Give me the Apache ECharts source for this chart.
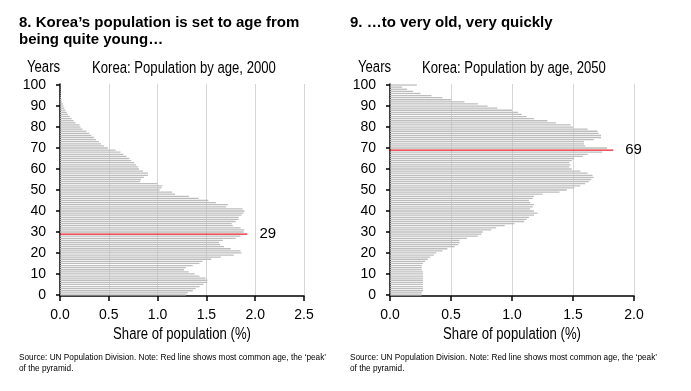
<!DOCTYPE html>
<html>
<head>
<meta charset="utf-8">
<script src="https://cdn.jsdelivr.net/npm/echarts@6/dist/echarts.min.js"></script>
<style>
html,body{margin:0;padding:0;background:#fff;}
#c{width:691px;height:391px;}
</style>
</head>
<body>
<div id="c"></div>
<script>
// Ages 0..100 (bottom to top)
const ages = [];
for (let a = 0; a <= 100; a++) ages.push(String(a));

// Share of population (%) by single year of age, Korea 2000
const share2000 = [
  1.29, 1.31, 1.36, 1.39, 1.43, 1.47, 1.51, 1.51, 1.49, 1.43,
  1.38, 1.32, 1.27, 1.29, 1.36, 1.43, 1.46, 1.55, 1.65, 1.78,
  1.86, 1.85, 1.75, 1.68, 1.64, 1.63, 1.67, 1.80, 1.85, 1.92,
  1.88, 1.89, 1.85, 1.77, 1.76, 1.80, 1.83, 1.83, 1.86, 1.88,
  1.89, 1.87, 1.70, 1.72, 1.60, 1.52, 1.42, 1.32, 1.18, 1.15,
  1.02, 1.04, 1.05, 1.00, 0.82, 0.83, 0.86, 0.90, 0.90, 0.85,
  0.81, 0.80, 0.78, 0.76, 0.73, 0.71, 0.68, 0.65, 0.62, 0.57,
  0.49, 0.45, 0.42, 0.40, 0.37, 0.35, 0.32, 0.30, 0.27, 0.23,
  0.21, 0.20, 0.16, 0.14, 0.12, 0.10, 0.08, 0.07, 0.055, 0.045,
  0.035, 0.03, 0.02, 0.015, 0.01, 0.008, 0.006, 0.005, 0.004, 0.003,
  0.005
];

// Share of population (%) by single year of age, Korea 2050 (100 = 100+)
const share2050 = [
  0.26, 0.26, 0.27, 0.27, 0.27, 0.27, 0.27, 0.27, 0.27, 0.27,
  0.27, 0.27, 0.26, 0.26, 0.26, 0.27, 0.29, 0.31, 0.33, 0.36,
  0.38, 0.43, 0.47, 0.53, 0.56, 0.57, 0.57, 0.63, 0.72, 0.75,
  0.76, 0.83, 0.87, 0.94, 1.02, 1.10, 1.12, 1.14, 1.18, 1.21,
  1.18, 1.15, 1.17, 1.18, 1.15, 1.14, 1.17, 1.18, 1.25, 1.39,
  1.45, 1.51, 1.56, 1.60, 1.63, 1.65, 1.67, 1.66, 1.62, 1.56,
  1.49, 1.47, 1.48, 1.47, 1.49, 1.51, 1.58, 1.62, 1.74, 1.83,
  1.78, 1.60, 1.59, 1.59, 1.67, 1.73, 1.73, 1.71, 1.70, 1.62,
  1.50, 1.48, 1.36, 1.29, 1.18, 1.12, 1.08, 1.05, 1.00, 0.88,
  0.80, 0.72, 0.61, 0.50, 0.43, 0.34, 0.25, 0.19, 0.14, 0.10,
  0.22
];

const xTicksLeft = ['0.0', '0.5', '1.0', '1.5', '2.0', '2.5'];
const xTicksRight = ['0.0', '0.5', '1.0', '1.5', '2.0'];

const SANS = '"Liberation Sans", Arial, sans-serif';
const BAR = '#bdbdbd';
const RED = '#e4202a';
const COND = 0.82; // horizontal squeeze to mimic the narrow font of the original

function build(values) {
  let peak = 0;
  values.forEach((v, i) => { if (v > values[peak]) peak = i; });
  return values.map((v, i) => i === peak ? {
    value: v,
    itemStyle: { color: RED },
    label: {
      show: true, position: 'right', distance: 12,
      formatter: ages[i], color: '#000',
      fontFamily: SANS, fontSize: 15
    }
  } : v);
}

function xAxis(grid, max, labels) {
  return {
    type: 'value', gridIndex: grid, min: 0, max: max, interval: 0.5,
    axisLine: { show: true, lineStyle: { color: '#000', width: 1.5 } },
    axisTick: { show: true, length: 5, lineStyle: { color: '#000', width: 1.5 } },
    axisLabel: {
      margin: 12, color: '#000', fontFamily: SANS, fontSize: 14,
      formatter: v => labels[Math.round(v / 0.5)]
    },
    splitLine: { show: true, lineStyle: { color: '#d6d6d6', width: 1 } }
  };
}

function yAxis(grid) {
  return {
    type: 'category', gridIndex: grid, data: ages, boundaryGap: true,
    axisLine: { show: true, lineStyle: { color: '#000', width: 1.5 } },
    axisTick: { show: true, interval: 9, alignWithLabel: true, length: 4, lineStyle: { color: '#000', width: 1.5 } },
    axisLabel: { interval: 9, margin: 14, color: '#000', fontFamily: SANS, fontSize: 14 },
    splitLine: { show: false }
  };
}

function txt(x, y, text, font, scale, align) {
  return {
    type: 'text', x: x, y: y, scaleX: scale, silent: true,
    style: {
      text: text, fill: '#000', font: font,
      textVerticalAlign: 'middle', textAlign: align || 'left'
    }
  };
}

const F16 = '16px ' + SANS;
const FB = 'bold 15px ' + SANS;
const FS = '9px ' + SANS;
const NOTE1 = 'Source: UN Population Division. Note: Red line shows most common age, the \u2018peak\u2019';
const NOTE2 = 'of the pyramid.';

const chart = echarts.init(document.getElementById('c'), null, { renderer: 'canvas' });
chart.setOption({
  animation: false,
  backgroundColor: '#fff',
  grid: [
    { left: 60, top: 84, width: 244, height: 212, containLabel: false },
    { left: 390, top: 84, width: 244, height: 212, containLabel: false }
  ],
  xAxis: [xAxis(0, 2.5, xTicksLeft), xAxis(1, 2.0, xTicksRight)],
  yAxis: [yAxis(0), yAxis(1)],
  series: [
    { type: 'bar', xAxisIndex: 0, yAxisIndex: 0, data: build(share2000),
      barCategoryGap: '38%', itemStyle: { color: BAR } },
    { type: 'bar', xAxisIndex: 1, yAxisIndex: 1, data: build(share2050),
      barCategoryGap: '38%', itemStyle: { color: BAR } }
  ],
  graphic: [
    txt(19, 22.5, '8. Korea\u2019s population is set to age from', FB, 1),
    txt(19, 40, 'being quite young\u2026', FB, 1),
    txt(350, 22.5, '9. \u2026to very old, very quickly', FB, 1),
    txt(27, 68, 'Years', F16, COND),
    txt(92, 68.5, 'Korea: Population by age, 2000', F16, COND),
    txt(358, 68, 'Years', F16, COND),
    txt(422, 68.5, 'Korea: Population by age, 2050', F16, COND),
    txt(182, 334.5, 'Share of population (%)', F16, COND, 'center'),
    txt(512, 334.5, 'Share of population (%)', F16, COND, 'center'),
    txt(19, 357.5, NOTE1, FS, 0.915),
    txt(19, 368.5, NOTE2, FS, 0.915),
    txt(350, 357.5, NOTE1, FS, 0.915),
    txt(350, 368.5, NOTE2, FS, 0.915)
  ]
});
</script>
</body>
</html>
